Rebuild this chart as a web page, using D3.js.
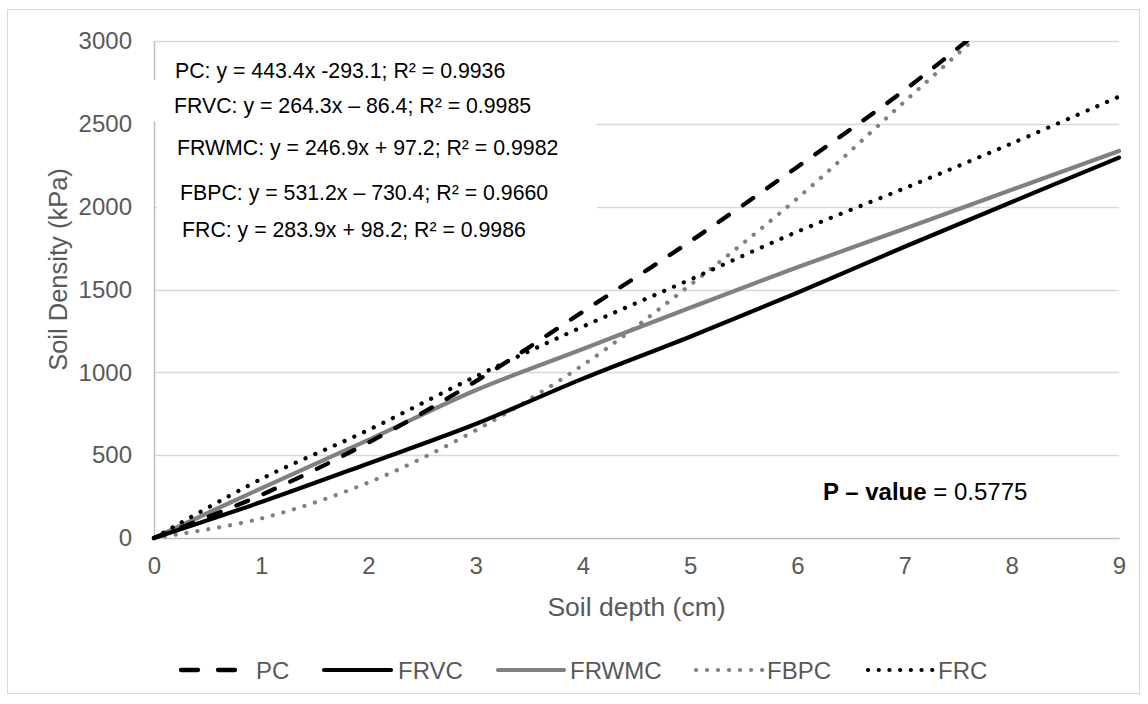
<!DOCTYPE html>
<html>
<head>
<meta charset="utf-8">
<script src="https://cdn.jsdelivr.net/npm/d3@7"></script>
<style>
  html, body { margin: 0; padding: 0; background: #fff; }
  svg { display: block; font-family: "Liberation Sans", Arial, sans-serif; }
</style>
</head>
<body>
<svg id="chart" width="1148" height="704"></svg>
<script>
// ---- data ----
const depths = [0, 1, 2, 3, 4, 5, 6, 7, 8, 9];
const PC    = [0, 260, 576, 945, 1366, 1790, 2240, 2704, 3220, 3740];
const FRVC  = [0, 217, 450, 688, 962, 1215, 1480, 1758, 2028, 2296];
const FRWMC = [0, 300, 592, 892, 1141, 1390, 1634, 1867, 2102, 2336];
const FBPC  = [0, 118, 335, 650, 1044, 1527, 2050, 2634, 3215, 3800];
const FRC   = [0, 356, 652, 975, 1276, 1560, 1849, 2111, 2382, 2664];
const seriesNames = ["PC", "FRVC", "FRWMC", "FBPC", "FRC"];
const xTicks = [0, 1, 2, 3, 4, 5, 6, 7, 8, 9];
const yTicks = [0, 500, 1000, 1500, 2000, 2500, 3000];
const equations = [
  "PC: y = 443.4x -293.1; R² = 0.9936",
  "FRVC: y = 264.3x – 86.4; R² = 0.9985",
  "FRWMC: y = 246.9x + 97.2; R² = 0.9982",
  "FBPC: y = 531.2x – 730.4; R² = 0.9660",
  "FRC: y = 283.9x + 98.2; R² = 0.9986"
];
const pValueLabel = "P – value";
const pValueText = " = 0.5775";
const xTitle = "Soil depth (cm)";
const yTitle = "Soil Density (kPa)";

// ---- styles ----
const styles = {
  PC:    { color: "#000000", width: 4.3, dash: "12.5,17", cap: "round" },
  FRVC:  { color: "#000000", width: 4.2, dash: null,   cap: "round" },
  FRWMC: { color: "#808080", width: 4.2, dash: null,   cap: "round" },
  FBPC:  { color: "#808080", width: 4.2, dash: "0.1,10.9", cap: "round" },
  FRC:   { color: "#000000", width: 4.2, dash: "0.1,10.6", cap: "round" }
};
const seriesData = { PC, FRVC, FRWMC, FBPC, FRC };

const svg = d3.select("#chart");
const plot = { left: 154, right: 1119, top: 41, bottom: 538 };

// outer border
svg.append("rect").attr("x", 7.5).attr("y", 9.5).attr("width", 1132).attr("height", 684)
  .attr("fill", "#fff").attr("stroke", "#d9d9d9").attr("stroke-width", 1);

const x = d3.scaleLinear().domain([0, 9]).range([plot.left, plot.right]);
const y = d3.scaleLinear().domain([0, 3000]).range([plot.bottom, plot.top]);

// gridlines
svg.append("g").selectAll("line").data(yTicks.filter(d => d > 0)).join("line")
  .attr("x1", plot.left).attr("x2", plot.right)
  .attr("y1", d => Math.round(y(d)) + 0.5).attr("y2", d => Math.round(y(d)) + 0.5)
  .attr("stroke", "#d9d9d9").attr("stroke-width", 1.5);

// axes
const yAxis = svg.append("g").attr("transform", `translate(${plot.left},0)`)
  .call(d3.axisLeft(y).tickValues(yTicks).tickSize(0).tickPadding(22).tickFormat(d3.format("d")));
const xAxis = svg.append("g").attr("transform", `translate(0,${plot.bottom})`)
  .call(d3.axisBottom(x).tickValues(xTicks).tickSize(0).tickPadding(19).tickFormat(d3.format("d")));
[yAxis, xAxis].forEach(g => {
  g.select(".domain").attr("stroke", "#bfbfbf").attr("stroke-width", 1.5);
  g.selectAll("text").attr("fill", "#595959").attr("font-size", 24)
    .attr("font-family", "'Liberation Sans', Arial, sans-serif");
});

// axis titles
svg.append("text").attr("x", (plot.left + plot.right) / 2).attr("y", 616)
  .attr("text-anchor", "middle").attr("font-size", 26.5).attr("fill", "#595959").text(xTitle);
svg.append("text").attr("transform", `translate(67,${(plot.top + plot.bottom) / 2 - 20}) rotate(-90)`)
  .attr("text-anchor", "middle").attr("font-size", 25.5).attr("fill", "#595959").text(yTitle);

// clip
svg.append("clipPath").attr("id", "clip").append("rect")
  .attr("x", plot.left - 3).attr("y", plot.top).attr("width", plot.right - plot.left + 6)
  .attr("height", plot.bottom - plot.top + 3);

const line = d3.line().x(d => x(d[0])).y(d => y(d[1])).curve(d3.curveCatmullRom.alpha(0.5));

const gLines = svg.append("g").attr("clip-path", "url(#clip)");
["FBPC", "FRWMC", "FRVC", "FRC", "PC"].forEach(name => {
  const st = styles[name];
  const pts = depths.map((d, i) => [d, seriesData[name][i]]);
  gLines.append("path").datum(pts).attr("d", line)
    .attr("fill", "none").attr("stroke", st.color).attr("stroke-width", st.width)
    .attr("stroke-linecap", st.cap).attr("stroke-linejoin", "round")
    .attr("stroke-dasharray", st.dash);
});

// equation text boxes (white background covering grid/axis like reference)
const boxes = [
  { x: 157, y: 55,  w: 360, h: 28, tx: 175, ty: 78 },
  { x: 140, y: 80,  w: 445, h: 41, tx: 174, ty: 113 },
  { x: 156, y: 122, w: 440, h: 42, tx: 177, ty: 155 },
  { x: 157, y: 168, w: 440, h: 44, tx: 180, ty: 200 },
  { x: 160, y: 213, w: 400, h: 34, tx: 182, ty: 237 }
];
boxes.forEach(b => {
  svg.append("rect").attr("x", b.x).attr("y", b.y).attr("width", b.w).attr("height", b.h).attr("fill", "#fff");
});
boxes.forEach((b, i) => {
  svg.append("text").attr("x", b.tx).attr("y", b.ty).attr("font-size", 21.3).attr("fill", "#000").text(equations[i]);
});

// p-value
const pv = svg.append("text").attr("x", 823).attr("y", 500).attr("font-size", 24).attr("fill", "#000");
pv.append("tspan").attr("font-weight", "bold").text(pValueLabel);
pv.append("tspan").text(pValueText);

// legend
const legendItems = [
  { name: "PC",    x1: 181, x2: 236, tx: 256 },
  { name: "FRVC",  x1: 324, x2: 391, tx: 398 },
  { name: "FRWMC", x1: 498, x2: 564, tx: 570 },
  { name: "FBPC",  x1: 696, x2: 765, tx: 767 },
  { name: "FRC",   x1: 868, x2: 936, tx: 938 }
];
const legY = 670;
legendItems.forEach(it => {
  const st = styles[it.name];
  svg.append("line").attr("x1", it.x1).attr("x2", it.x2).attr("y1", legY).attr("y2", legY)
    .attr("stroke", st.color).attr("stroke-width", st.width).attr("stroke-linecap", st.cap)
    .attr("stroke-dasharray", it.name === "PC" ? "17,20" : st.dash);
  svg.append("text").attr("x", it.tx).attr("y", legY + 8.5).attr("font-size", 24)
    .attr("fill", "#595959").text(it.name);
});
</script>
</body>
</html>
